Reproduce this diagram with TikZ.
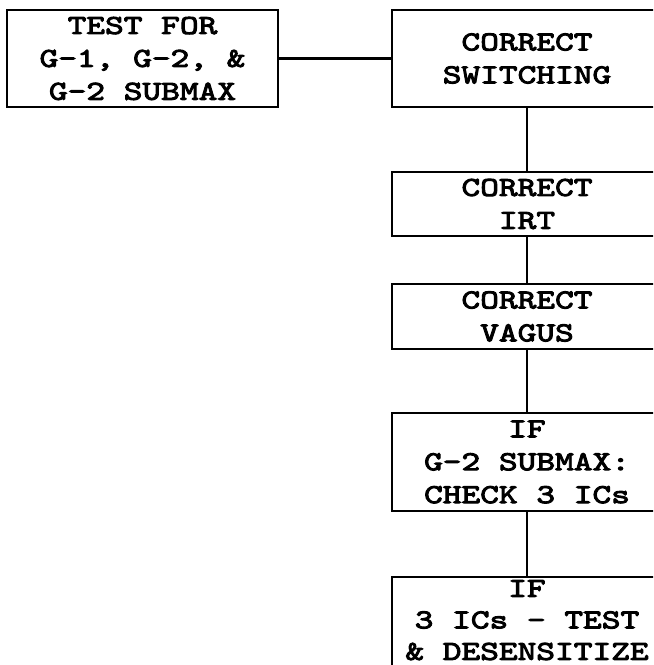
\documentclass[tikz,border=0pt]{standalone}
\usepackage{fontspec}
\newfontfamily\flowtt[FakeStretch=1.3, FakeBold=3.5]{lmmono10-regular.otf}
\usepackage{tikz}
\usetikzlibrary{positioning}
\newcommand\flowfont{\fontsize{19.5}{23.4}\selectfont\flowtt}

\begin{document}
\begin{tikzpicture}[x=0.025cm, y=-0.025cm,
            blk/.style={draw=black, line width=1.6pt, align=center, inner sep=0pt, font=\flowfont},
            link/.style={line width=1.6pt}]
            \clip (0,0) rectangle (653,665);
            \node[blk, minimum width=6.775cm, minimum height=2.425cm] (test)   at (142.5,58.5) {TEST FOR\\G-1, G-2, \&\\G-2 SUBMAX};
            \node[blk, minimum width=6.75cm,  minimum height=2.425cm] (switch) at (527,58.5)   {CORRECT\\SWITCHING};
            \node[blk, minimum width=6.75cm,  minimum height=1.6cm]   (irt)    at (527,204)    {CORRECT\\IRT};
            \node[blk, minimum width=6.75cm,  minimum height=1.625cm] (vagus)  at (527,316.5)  {CORRECT\\VAGUS};
            \node[blk, minimum width=6.75cm,  minimum height=2.45cm]  (check)  at (527,462)    {IF\\G-2 SUBMAX:\\CHECK 3 ICs};
            \node[blk, font=\fontsize{19.5}{22.4}\selectfont\flowtt, minimum width=6.75cm,
                  inner ysep=0.075cm, text depth=0.35cm, anchor=north] (desens) at (527,576) {IF\\3 ICs - TEST\\\& DESENSITIZE};
            \draw[link] (test)--(switch);
            \draw[link] (switch)--(irt) (irt)--(vagus) (vagus)--(check) (check)--(desens);
        \end{tikzpicture}
\end{document}
